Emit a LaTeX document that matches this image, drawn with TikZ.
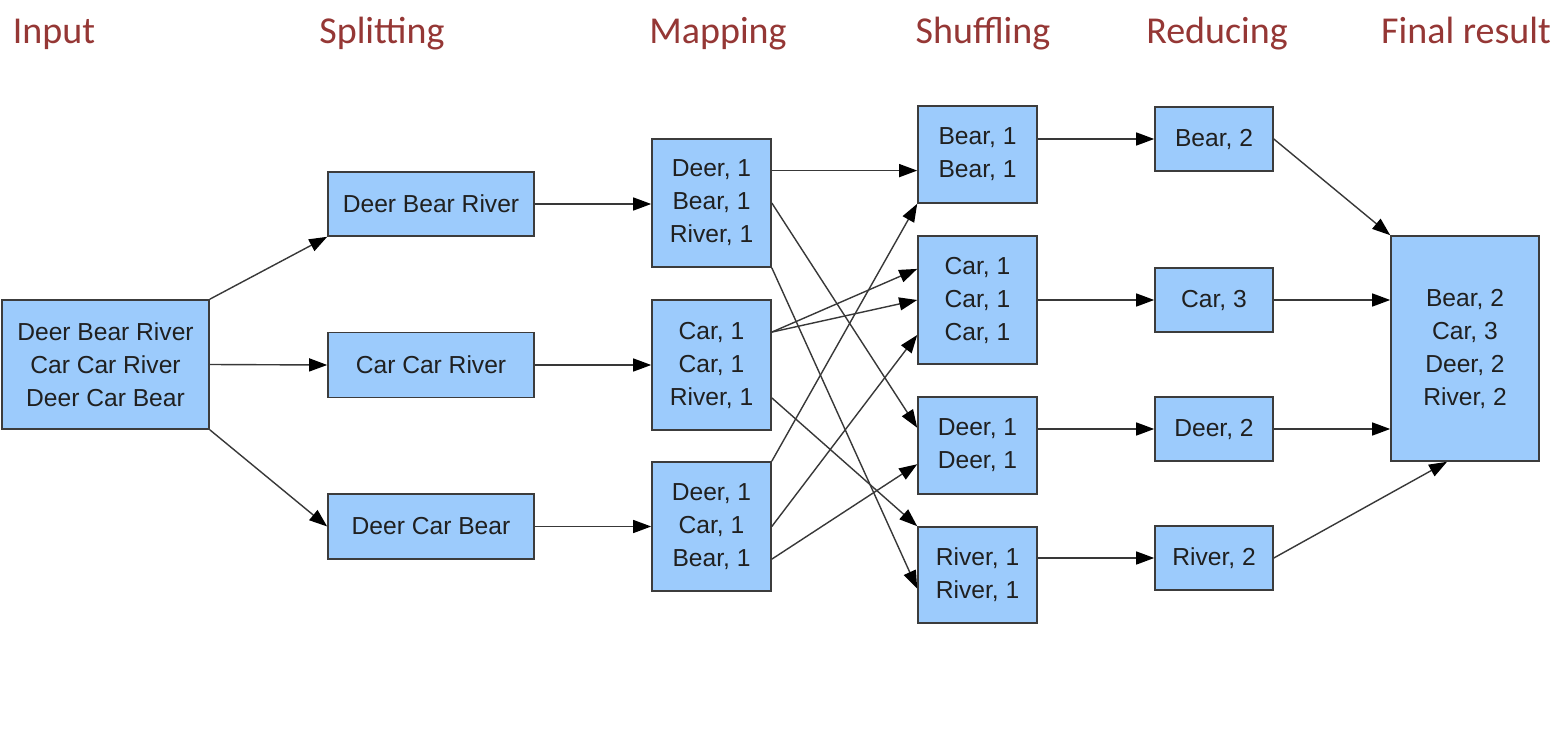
\documentclass[tikz,border=0pt]{standalone}
\usepackage{fontspec}
\setmainfont{Liberation Sans}
\newfontfamily\titlefont{Carlito}
\usetikzlibrary{arrows.meta,calc}
\definecolor{boxfill}{HTML}{9CCBFC}
\definecolor{boxline}{HTML}{3C3C3C}
\definecolor{titlered}{HTML}{953735}
\definecolor{edgecol}{HTML}{383838}
\definecolor{textgray}{HTML}{202020}
\begin{document}
\begin{tikzpicture}[x=1pt,y=-1pt,
  box/.style={draw=boxline,fill=boxfill,line width=1.6pt,inner sep=0pt,align=center,
    font=\fontsize{24.6}{33}\selectfont,text=textgray},
  bw/.style={minimum width=#1},
  bh/.style={minimum height=#1},
  flow/.style={draw=edgecol,line width=1.4pt,-{Triangle[length=18pt,width=13pt,color=black]}},
  title/.style={anchor=base,text=titlered,font=\titlefont\fontsize{38}{40}\selectfont}]
\useasboundingbox[fill=white] (0,0) rectangle (1558,738);

% titles
\node[title] (tin)  at (54,44)   {Input};
\node[title] (tspl) at (382,44)  {Splitting};
\node[title] (tmap) at (718,44)  {Mapping};
\node[title] (tshu) at (983,44)  {Shuffling};
\node[title] (tred) at (1217,44) {Reducing};
\node[title] (tfin) at (1466,44) {Final result};

% input
\node[box,bw=207pt,bh=129pt] (in) at (105.5,364.5) {Deer Bear River\\Car Car River\\Deer Car Bear};
% splitting
\node[box,bw=206pt,bh=64pt] (s1) at (431,204) {Deer Bear River};
\node[box,bw=206pt,bh=65pt] (s2) at (431,365) {Car Car River};
\node[box,bw=206pt,bh=65pt] (s3) at (431,526.5) {Deer Car Bear};
% mapping
\node[box,bw=119pt,bh=128pt] (m1) at (711.5,203) {Deer, 1\\Bear, 1\\River, 1};
\node[box,bw=119pt,bh=130pt] (m2) at (711.5,365) {Car, 1\\Car, 1\\River, 1};
\node[box,bw=119pt,bh=129pt] (m3) at (711.5,526.5) {Deer, 1\\Car, 1\\Bear, 1};
% shuffling
\node[box,bw=119pt,bh=97pt]  (h1) at (977.5,154.5) {Bear, 1\\Bear, 1};
\node[box,bw=119pt,bh=128pt] (h2) at (977.5,300) {Car, 1\\Car, 1\\Car, 1};
\node[box,bw=119pt,bh=97pt]  (h3) at (977.5,445.5) {Deer, 1\\Deer, 1};
\node[box,bw=119pt,bh=96pt]  (h4) at (977.5,575) {River, 1\\River, 1};
% reducing
\node[box,bw=118pt,bh=64pt] (r1) at (1214,139) {Bear, 2};
\node[box,bw=118pt,bh=64pt] (r2) at (1214,300) {Car, 3};
\node[box,bw=118pt,bh=64pt] (r3) at (1214,429) {Deer, 2};
\node[box,bw=118pt,bh=64pt] (r4) at (1214,558) {River, 2};
% final
\node[box,bw=148pt,bh=225pt] (fin) at (1465,348.5) {Bear, 2\\Car, 3\\Deer, 2\\River, 2};

% input -> splitting
\draw[flow] (in.north east) -- (s1.south west);
\draw[flow] (in.east) -- (s2.west);
\draw[flow] (in.south east) -- (s3.west);
% splitting -> mapping
\draw[flow] (s1.east) -- (s1.east -| m1.west);
\draw[flow] (s2.east) -- (m2.west);
\draw[flow] (s3.east) -- (s3.east -| m3.west);
% mapping -> shuffling
\coordinate (m1a) at ($(m1.north east)!0.25!(m1.south east)$);
\draw[flow] (m1a) -- (m1a -| h1.west);
\draw[flow] (m1.east) -- ($(h3.north west)!0.32!(h3.south west)$);
\draw[flow] (m1.south east) -- ($(h4.north west)!0.64!(h4.south west)$);
\coordinate (m2a) at ($(m2.north east)!0.25!(m2.south east)$);
\draw[flow] (m2a) -- ($(h2.north west)!0.26!(h2.south west)$);
\draw[flow] (m2a) -- (h2.west);
\draw[flow] ($(m2.north east)!0.75!(m2.south east)$) -- (h4.north west);
\draw[flow] (m3.north east) -- (h1.south west);
\draw[flow] (m3.east) -- ($(h2.north west)!0.77!(h2.south west)$);
\draw[flow] ($(m3.north east)!0.75!(m3.south east)$) -- ($(h3.north west)!0.69!(h3.south west)$);
% shuffling -> reducing
\draw[flow] (r1.west -| h1.east) -- (r1.west);
\draw[flow] (h2.east) -- (r2.west);
\draw[flow] (r3.west -| h3.east) -- (r3.west);
\draw[flow] (r4.west -| h4.east) -- (r4.west);
% reducing -> final
\draw[flow] (r1.east) -- (fin.north west);
\draw[flow] (r2.east) -- (r2.east -| fin.west);
\draw[flow] (r3.east) -- (r3.east -| fin.west);
\draw[flow] (r4.east) -- ($(fin.south west)!0.38!(fin.south east)$);
\end{tikzpicture}
\end{document}
